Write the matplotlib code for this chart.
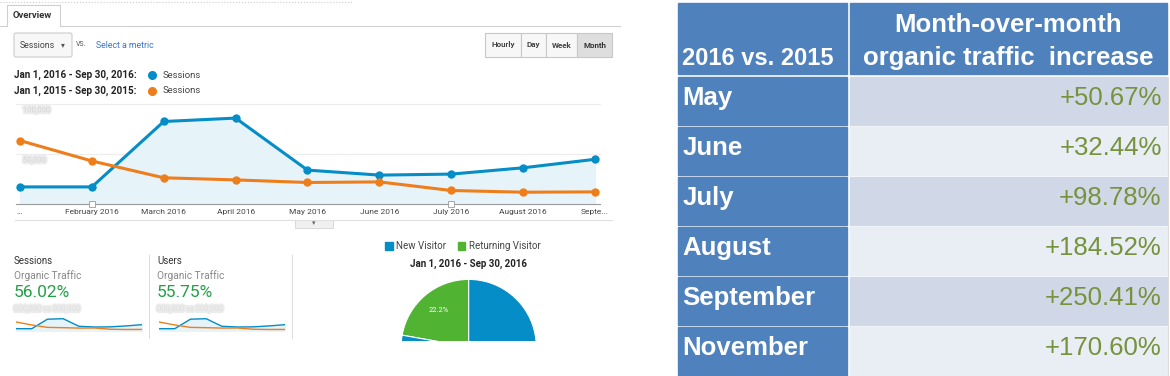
import matplotlib
matplotlib.use('Agg')
import matplotlib.pyplot as plt
import matplotlib.patches as patches
import matplotlib.patheffects as pe

plt.rcParams['font.family'] = ['Roboto', 'DejaVu Sans']

W, H = 1170, 376

# --- data ---
month_labels = ['...', 'February 2016', 'March 2016', 'April 2016', 'May 2016',
                'June 2016', 'July 2016', 'August 2016', 'Septe...']
sessions_2016 = [17100, 17100, 82500, 85900, 33900, 28900, 29900, 36200, 44700]
sessions_2015 = [63400, 43000, 26200, 24100, 21500, 22100, 13500, 11800, 12100]
y_grid = [50000, 100000]
y_grid_labels = ['50,000', '100,000']
note_months = [1, 6]
period_labels = ['Jan 1, 2016 - Sep 30, 2016:', 'Jan 1, 2015 - Sep 30, 2015:']
interval_buttons = ['Hourly', 'Day', 'Week', 'Month']
stat_metrics = ['Sessions', 'Users']
stat_changes = [56.02, 55.75]
visitor_types = ['New Visitor', 'Returning Visitor']
visitor_share = [77.8, 22.2]
table_months = ['May', 'June', 'July', 'August', 'September', 'November']
table_increase = [50.67, 32.44, 98.78, 184.52, 250.41, 170.60]

BLUE = '#058DC7'
ORANGE = '#EE7E1B'
GREEN = '#50B432'
FILL = '#E6F3F9'
STAT_GREEN = '#23A047'
TBL_BLUE = '#4F81BD'
TBL_DARK = '#D0D8E8'
TBL_LIGHT = '#E9EDF4'
TBL_TEXT = '#76923C'

fig = plt.figure(figsize=(W / 100, H / 100), dpi=100)
bg = fig.add_axes([0, 0, 1, 1])
bg.set_xlim(0, W)
bg.set_ylim(H, 0)
bg.axis('off')


def px_axes(x0, y0, x1, y1):
    # axes placed by pixel box (top-left origin)
    a = fig.add_axes([x0 / W, 1 - y1 / H, (x1 - x0) / W, (y1 - y0) / H])
    a.patch.set_alpha(0)
    return a


blur = [pe.withStroke(linewidth=3, foreground='#ececec')]

# --- header: tab, metric selector, interval buttons ---
bg.plot([0, 353], [1.5, 1.5], color='#cccccc', lw=0.8, ls=':')
bg.plot([0, 7, 7, 60, 60, 620], [25.5, 25.5, 5, 5, 25.5, 25.5], color='#cfcfcf', lw=0.8)
bg.text(13, 16, 'Overview', fontsize=6.8, fontweight='bold', color='#333', va='center')

bg.add_patch(patches.FancyBboxPatch((14, 33), 58, 24, boxstyle='round,pad=0,rounding_size=2',
                                    fc='#f7f7f7', ec='#cccccc', lw=0.8))
bg.text(20, 45, 'Sessions', fontsize=6.3, color='#444', va='center')
bg.text(62.5, 45, '▾', fontsize=5.5, color='#555', va='center', ha='center')
bg.text(76, 44, 'VS.', fontsize=5, color='#555', va='center')
bg.text(96, 45, 'Select a metric', fontsize=6.3, color='#3a76c4', va='center')

btn_edges = [485, 520.6, 545.6, 577.4, 612]
for i, lab in enumerate(interval_buttons):
    x0, x1 = btn_edges[i], btn_edges[i + 1]
    active = lab == 'Month'
    bg.add_patch(patches.Rectangle((x0, 33), x1 - x0, 24, fc='#dedede' if active else '#f7f7f7',
                                   ec='#c8c8c8', lw=0.8))
    bg.text((x0 + x1) / 2, 45, lab, fontsize=5.8, color='#333' if active else '#444',
            fontweight='bold', ha='center', va='center')

# --- legend for the comparison ---
for i, (lab, col) in enumerate(zip(period_labels, [BLUE, ORANGE])):
    y = 75 + 15.7 * i
    bg.text(14, y, lab, fontsize=7.1, fontweight='bold', color='#222', va='center')
    bg.plot([152], [y], marker='o', ms=5.5, color=col)
    bg.text(162.5, y, 'Sessions', fontsize=6.8, color='#444', va='center')

# --- main line chart ---
x = list(range(len(month_labels)))
ax = px_axes(16, 104, 600, 204)
ax.set_xlim(-0.056, 8.07)
ax.set_ylim(0, 100000)
for v, lab in zip(y_grid, y_grid_labels):
    ax.axhline(v, color='#ececec', lw=0.8, zorder=0, clip_on=False)
    ax.annotate(lab, xy=(0, v), xycoords=('axes fraction', 'data'), xytext=(5, -4.5),
                textcoords='offset points', fontsize=5.5, color='#d4d4d4', va='center',
                path_effects=blur)
ax.fill_between(x, sessions_2016, color=FILL, zorder=1)
ax.plot(x, sessions_2016, color=BLUE, lw=2.2, marker='o', ms=5, zorder=3)
ax.plot(x, sessions_2015, color=ORANGE, lw=2.2, marker='o', ms=5, zorder=4)
ax.plot([x[i] for i in note_months], [0] * len(note_months), ls='none', marker='s', ms=4,
        mfc='white', mec='#9a9a9a', mew=0.6, clip_on=False, zorder=5)
ax.set_xticks(x)
ax.set_xticklabels(month_labels, fontsize=6, color='#444')
ax.set_yticks([])
ax.tick_params(length=0, pad=3.5)
for s in ['top', 'left', 'right']:
    ax.spines[s].set_visible(False)
ax.spines['bottom'].set_color('#9a9a9a')

bg.plot([15, 612], [220, 220], color='#e0e0e0', lw=0.8)
bg.add_patch(patches.Rectangle((295, 220), 38, 7.5, fc='#f0f0f0', ec='#d4d4d4', lw=0.6))
bg.text(314, 223.5, '▾', fontsize=5, color='#666', ha='center', va='center')

# --- scorecards with sparklines ---
for i, (name, val) in enumerate(zip(stat_metrics, stat_changes)):
    x0 = 14 + 143 * i
    bg.text(x0, 260.7, name, fontsize=7, color='#333', va='center')
    bg.text(x0, 275.7, 'Organic Traffic', fontsize=7.3, color='#888', va='center')
    bg.text(x0, 292.5, f'{val:.2f}%', fontsize=12.5, color=STAT_GREEN, va='center')
    bg.text(x0, 309, '000,000 vs 000,000', fontsize=5.5, color='#dedede', va='center',
            path_effects=blur)
    sp = px_axes(x0 + 2, 318.1, x0 + 127.7, 331.2)
    sp.set_xlim(0, len(x) - 1)
    sp.set_ylim(0, 90000)
    sp.fill_between(x, sessions_2016, color=FILL)
    sp.plot(x, sessions_2016, color=BLUE, lw=1)
    sp.plot(x, sessions_2015, color=ORANGE, lw=1)
    sp.axis('off')
    bg.plot([x0 + 135, x0 + 135], [255, 338], color='#dddddd', lw=0.8)

# --- new vs returning pie ---
for lab, col, sx in zip(visitor_types, [BLUE, GREEN], [385, 457.7]):
    bg.add_patch(patches.Rectangle((sx, 242), 7.5, 7.5, color=col))
    bg.text(sx + 11.5, 245.8, lab, fontsize=7, color='#444', va='center')
bg.text(468.7, 264.3, 'Jan 1, 2016 - Sep 30, 2016', fontsize=7, fontweight='bold',
        color='#222', ha='center', va='center')

cx, cy, r, cut = 468.7, 347.0, 67.6, 340.7
pa = px_axes(cx - r, cy - r, cx + r, cut)
wedges, _, _ = pa.pie(visitor_share[::-1], colors=[GREEN, BLUE], startangle=90,
                      counterclock=True, wedgeprops=dict(edgecolor='white', linewidth=0.8),
                      autopct=lambda p: f'{p:.1f}%' if p < 50 else '', pctdistance=0.7,
                      textprops=dict(color='white', fontsize=5.3))
for w in wedges:
    w.set_clip_on(True)
    w.set_clip_path(pa.patch)
pa.set_aspect('auto')
pa.set_xlim(-1, 1)
pa.set_ylim((cy - cut) / r, 1)

# --- right table ---
TF = 'Liberation Sans'
lx0, lx1, rx0, rx1 = 678, 847.3, 850, 1166.7
bg.add_patch(patches.Rectangle((lx0, 3.3), lx1 - lx0, 71, color=TBL_BLUE))
bg.add_patch(patches.Rectangle((rx0, 3.3), rx1 - rx0, 71, color=TBL_BLUE))
bg.text(682, 65, '2016 vs. 2015', family=TF, fontsize=17, fontweight='bold', color='white',
        va='baseline')
bg.text((rx0 + rx1) / 2, 32, 'Month-over-month', family=TF, fontsize=18.5, fontweight='bold',
        color='white', ha='center', va='baseline')
bg.text((rx0 + rx1) / 2, 65, 'organic traffic  increase', family=TF, fontsize=18.5,
        fontweight='bold', color='white', ha='center', va='baseline')

for i, (m, v) in enumerate(zip(table_months, table_increase)):
    top = 77.3 + 50 * i
    bg.add_patch(patches.Rectangle((lx0, top), lx1 - lx0, 47.7, color=TBL_BLUE))
    bg.add_patch(patches.Rectangle((rx0, top), rx1 - rx0, 47.7,
                                   color=TBL_DARK if i % 2 == 0 else TBL_LIGHT))
    bg.text(682.5, top + 27.5, m, family=TF, fontsize=18.5, fontweight='bold', color='white',
            va='baseline')
    bg.text(1161.7, top + 27.5, f'+{v:.2f}%', family=TF, fontsize=18.5, color=TBL_TEXT,
            ha='right', va='baseline')
bg.plot([1168, 1168], [77, 375], color='#dcdcdc', lw=0.8)

fig.savefig('out.png', dpi=100)
